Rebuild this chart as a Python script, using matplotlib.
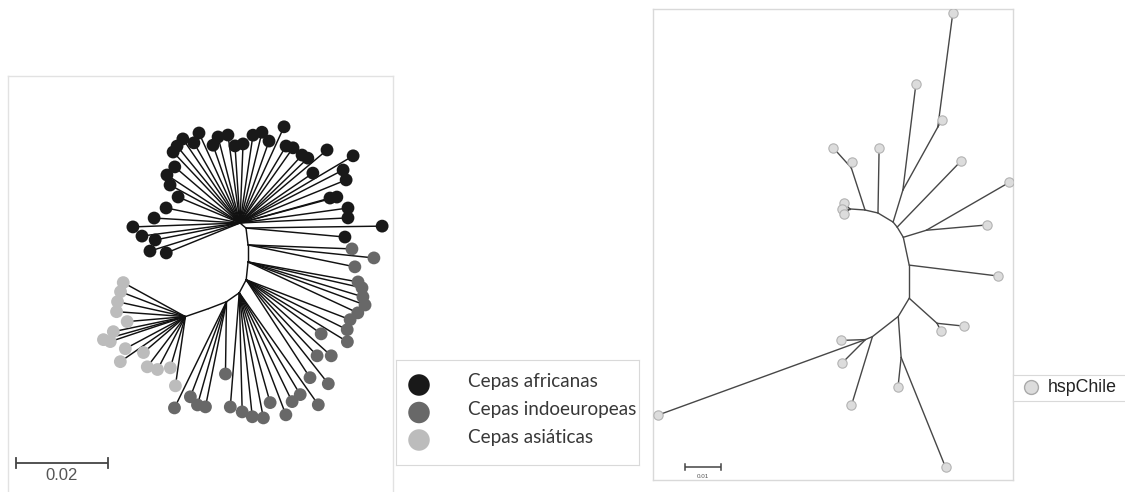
import math
import matplotlib
matplotlib.use("Agg")
import matplotlib.pyplot as plt

W, H, DPI = 1125, 492, 100

# ---------------------------------------------------------------------------
# Tree 1: African, Indo-European and Asian strains (unrooted layout).
# Internal nodes along the backbone: parent, branch length (subst./site),
# drawing direction of the branch (degrees).
# ---------------------------------------------------------------------------
t1_node_parent = [-1, 0, 1, 2, 3, 4, 5, 6, 7]
t1_node_length = [0.0, 0.0017, 0.0037, 0.0037, 0.0039, 0.0032, 0.0034, 0.0042, 0.0053]
t1_node_angle = [0, -40, -83, -90, -96, -118, -145, -159, -161]

# Terminal branches
t1_tip_parent = [
    0, 0, 0, 0, 0, 0, 0, 0, 0, 0, 0, 0, 0, 0, 0, 0, 0, 0, 0, 0,
    0, 0, 0, 0, 0, 0, 0, 0, 0, 0, 0, 0, 0, 0, 0, 0, 0, 0,
    1, 1,
    2, 2, 2,
    3, 3, 3, 3, 3,
    4, 4, 4, 4, 4, 4, 4, 4,
    5, 5, 5, 5, 5, 5, 5, 5, 5,
    6, 6, 6, 6, 6,
    8, 8, 8, 8, 8, 8, 8, 8, 8, 8, 8, 8, 8, 8, 8,
]
t1_tip_length = [
    0.0215, 0.0221, 0.0216, 0.0212, 0.0201, 0.0179, 0.0193, 0.0193, 0.0168, 0.0172,
    0.0193, 0.0203, 0.0189, 0.0230, 0.0195, 0.0200, 0.0200, 0.0204, 0.0192, 0.0247,
    0.0286, 0.0252, 0.0249, 0.0203, 0.0218, 0.0237, 0.0235, 0.0187, 0.0190, 0.0173,
    0.0146, 0.0164, 0.0187, 0.0233, 0.0215, 0.0188, 0.0205, 0.0173,
    0.0296, 0.0216,
    0.0226, 0.0275, 0.0237,
    0.0243, 0.0254, 0.0261, 0.0271, 0.0263,
    0.0242, 0.0245, 0.0258, 0.0201, 0.0226, 0.0248, 0.0254, 0.0288,
    0.0298, 0.0258, 0.0263, 0.0284, 0.0248, 0.0277, 0.0271, 0.0259, 0.0249,
    0.0157, 0.0233, 0.0233, 0.0221, 0.0257,
    0.0154, 0.0151, 0.0151, 0.0150, 0.0127, 0.0160, 0.0185, 0.0172, 0.0148, 0.0172,
    0.0120, 0.0137, 0.0130, 0.0116, 0.0152,
]
t1_tip_angle = [
    114.5, 124.2, 129.3, 133.3, 119.9, 109.1, 104.3, 97.8, 93.7, 87.8,
    81.6, 76.4, 70.5, 65.4, 59.1, 54.8, 47.6, 43.7, 34.4, 40.0,
    30.7, 27.2, 22.1, 15.5, 15.0, 7.9, 2.7, 139.3, 146.7, 151.5,
    157.2, 168.5, 176.7, 182.1, 187.6, 191.3, 197.3, 202.1,
    0.8, -5.2,
    -2.2, -5.9, -11.6,
    -10.3, -12.8, -16.9, -20.2, -24.9,
    -21.0, -26.3, -31.5, -35.8, -47.0, -41.8, -56.9, -51.7,
    -54.8, -59.1, -64.1, -69.1, -74.3, -79.1, -84.0, -88.6, -94.5,
    -90.8, -101.3, -105.7, -110.8, -116.1,
    151.3, 159.0, 167.6, 175.9, 184.9, 191.8, 195.7, 198.4, 208.1, 214.7,
    220.6, 232.8, 242.2, 253.6, 261.8,
]
t1_tip_group = (
    ["afr"] * 40 + ["indo"] * 30 + ["asia"] * 15
)

t1_groups = ["afr", "indo", "asia"]
t1_labels = ["Cepas africanas", "Cepas indoeuropeas", "Cepas asiáticas"]
t1_colors = {"afr": "#191919", "indo": "#686868", "asia": "#bcbcbc"}
t1_scale = 0.02

# ---------------------------------------------------------------------------
# Tree 2: hspChile isolates (unrooted layout).
# ---------------------------------------------------------------------------
t2_node_parent = [-1, 0, 1, 2, 3, 4, 5, 6, 7, 8, 0, 0, 2, 12, 4, 6, 7]
t2_node_length = [0.0, 0.0037, 0.0049, 0.0018, 0.0033, 0.0079, 0.0092, 0.0059,
                  0.0091, 0.0021, 0.0123, 0.0042, 0.0093, 0.0200, 0.0067,
                  0.0104, 0.0114]
t2_node_angle = [0, -13, -31, -51, -59, -78, -90, -121, -142, -157, 108, 176,
                 73, 61, 17, -42, -86]

t2_tip_parent = [10, 10, 11, 11, 11, 1, 12, 13, 13, 3, 14, 14, 5, 15, 15, 16,
                 16, 8, 9, 9, 9]
t2_tip_length = [0.0075, 0.0017, 0.0024, 0.0022, 0.0022, 0.0181, 0.0297,
                 0.0023, 0.0319, 0.0255, 0.0266, 0.0170, 0.0249, 0.0025,
                 0.0076, 0.0084, 0.0329, 0.0200, 0.0069, 0.0094, 0.0614]
t2_tip_angle = [132, 80, 135, 180, 220, 89, 83, 60, 82.5, 46, 30, 5, -7, -63,
                -6, -96, -68, -107, 182, 225, 200]
t2_label = "hspChile"
t2_scale = 0.01


def layout(parent, length, angle):
    xs = [0.0] * len(parent)
    ys = [0.0] * len(parent)
    for i, p in enumerate(parent):
        if p < 0:
            continue
        a = math.radians(angle[i])
        xs[i] = xs[p] + length[i] * math.cos(a)
        ys[i] = ys[p] + length[i] * math.sin(a)
    return xs, ys


def px_axes(fig, left, top, right, bottom):
    return fig.add_axes([left / W, 1 - bottom / H, (right - left) / W, (bottom - top) / H])


def setup_tree_axes(ax, box, root_px, px_per_unit, edge="#dadada", hide_bottom=False):
    left, top, right, bottom = box
    rx, ry = root_px
    ax.set_xlim((left - rx) / px_per_unit, (right - rx) / px_per_unit)
    ax.set_ylim((ry - bottom) / px_per_unit, (ry - top) / px_per_unit)
    ax.set_xticks([])
    ax.set_yticks([])
    for s in ax.spines.values():
        s.set_color(edge)
        s.set_linewidth(1.0)
    if hide_bottom:
        ax.spines["bottom"].set_visible(False)


def scale_bar(ax, x_px, y_px, root_px, px_per_unit, value, tick_px, label_dy_px,
              fontsize, color="#444444", lw=1.3):
    rx, ry = root_px
    x0 = (x_px - rx) / px_per_unit
    x1 = x0 + value
    y = (ry - y_px) / px_per_unit
    t = tick_px / px_per_unit
    ax.plot([x0, x1], [y, y], color=color, lw=lw, solid_capstyle="butt")
    for xv in (x0, x1):
        ax.plot([xv, xv], [y - t, y + t], color=color, lw=lw)
    ax.text((x0 + x1) / 2, y - label_dy_px / px_per_unit, f"{value:g}",
            ha="center", va="center", fontsize=fontsize, color="#555555",
            family=["Liberation Sans", "DejaVu Sans"])


fig = plt.figure(figsize=(W / DPI, H / DPI), dpi=DPI)
fig.patch.set_facecolor("white")

# ----------------------------- tree 1 -------------------------------------
T1_BOX = (8, 76, 393, 492)
T1_ROOT = (240, 223)
T1_PPU = 4600
ax1 = px_axes(fig, *T1_BOX)
setup_tree_axes(ax1, T1_BOX, T1_ROOT, T1_PPU, edge="#e2e2e2", hide_bottom=True)

p1 = t1_node_parent + t1_tip_parent
l1 = t1_node_length + t1_tip_length
a1 = t1_node_angle + t1_tip_angle
x1s, y1s = layout(p1, l1, a1)
for i, p in enumerate(p1):
    if p >= 0:
        ax1.plot([x1s[p], x1s[i]], [y1s[p], y1s[i]], color="#111111", lw=1.05,
                 solid_capstyle="round", zorder=2)
n_int = len(t1_node_parent)
for g in t1_groups:
    idx = [n_int + k for k, gg in enumerate(t1_tip_group) if gg == g]
    ax1.scatter([x1s[i] for i in idx], [y1s[i] for i in idx], s=85,
                color=t1_colors[g], edgecolor="none", zorder=3)
scale_bar(ax1, 16, 463, T1_ROOT, T1_PPU, t1_scale, 5, 12, 12)

# legend for tree 1
lg1 = px_axes(fig, 396, 360, 639, 465)
lg1.set_xlim(0, 243)
lg1.set_ylim(105, 0)
lg1.set_xticks([])
lg1.set_yticks([])
for s in lg1.spines.values():
    s.set_color("#d9d9d9")
for k, (g, lab) in enumerate(zip(t1_groups, t1_labels)):
    yc = 25 + 27.5 * k
    lg1.scatter([23], [yc], s=240, color=t1_colors[g], edgecolor="none")
    lg1.text(72, yc + 2.5, lab, fontsize=13.6, color="#383838", va="baseline",
             ha="left", family=["Lato", "DejaVu Sans"])

# ----------------------------- tree 2 -------------------------------------
T2_BOX = (653, 9, 1013, 480)
T2_ROOT = (865, 210)
T2_PPU = 3600
ax2 = px_axes(fig, *T2_BOX)
setup_tree_axes(ax2, T2_BOX, T2_ROOT, T2_PPU, edge="#d9d9d9")

p2 = t2_node_parent + t2_tip_parent
l2 = t2_node_length + t2_tip_length
a2 = t2_node_angle + t2_tip_angle
x2s, y2s = layout(p2, l2, a2)
for i, p in enumerate(p2):
    if p >= 0:
        ax2.plot([x2s[p], x2s[i]], [y2s[p], y2s[i]], color="#474747", lw=1.0,
                 solid_capstyle="round", zorder=2)
tips2 = range(len(t2_node_parent), len(p2))
ax2.scatter([x2s[i] for i in tips2], [y2s[i] for i in tips2], s=45,
            color="#dcdcdc", edgecolor="#b3b3b3", linewidth=0.8, zorder=3)
scale_bar(ax2, 685, 467, T2_ROOT, T2_PPU, t2_scale, 3, 9, 4.5, lw=1.1)

# legend for tree 2
lg2 = px_axes(fig, 1013, 375, 1125, 401)
lg2.set_xlim(0, 112)
lg2.set_ylim(26, 0)
lg2.set_xticks([])
lg2.set_yticks([])
for s in lg2.spines.values():
    s.set_color("#d9d9d9")
lg2.spines["right"].set_visible(False)
lg2.scatter([18], [12], s=100, color="#dcdcdc", edgecolor="#aaaaaa", linewidth=1.0)
lg2.text(35, 17, t2_label, fontsize=12.8, color="#222222", va="baseline",
         ha="left", family=["Liberation Sans", "DejaVu Sans"])

fig.savefig("out.png", dpi=DPI, facecolor="white")
